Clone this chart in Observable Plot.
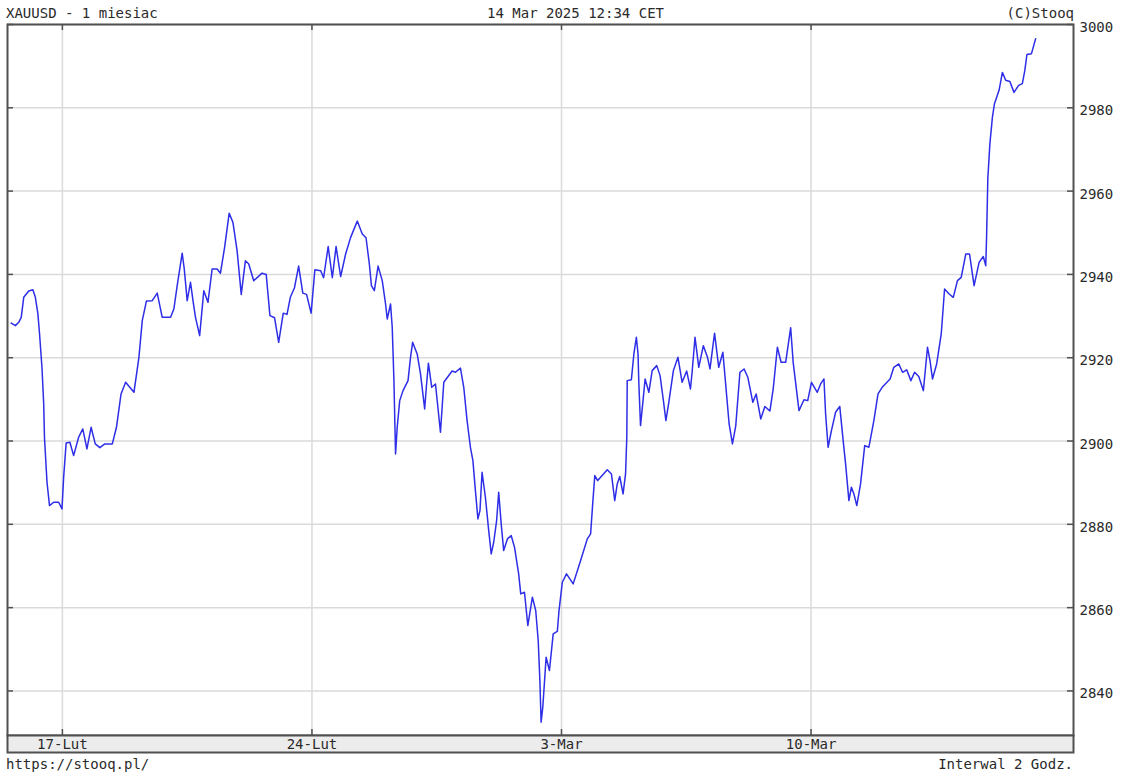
<!DOCTYPE html>
<html><head><meta charset="utf-8">
<script src="https://cdn.jsdelivr.net/npm/d3@7"></script>
<script src="https://cdn.jsdelivr.net/npm/@observablehq/plot@0.6"></script>
<style>
body{margin:0;background:#fff;}
#wrap{position:relative;width:1123px;height:782px;font-family:"DejaVu Sans Mono",monospace;font-size:14px;color:#2a2a2a;}
#wrap svg{position:absolute;left:0;top:0;}
.t{position:absolute;white-space:pre;line-height:14px;}
</style></head><body>
<div id="wrap">
<div class="t" style="left:6px;top:6px">XAUUSD - 1 miesiac</div>
<div class="t" style="left:487px;top:6px">14 Mar 2025 12:34 CET</div>
<div class="t" style="right:49px;top:6px">(C)Stooq</div>
<div class="t" style="left:6px;top:757px">https://stooq.pl/</div>
<div class="t" style="right:50px;top:757px">Interwal 2 Godz.</div>
</div>
<script>
// bar index (2-hour bars, trading time) and price
const bar = [
0.2,1.2,2.0,2.6,3.2,4.4,5.4,6.0,6.6,7.0,
7.6,8.0,8.2,8.8,9.4,10.4,11.6,12.4,12.8,13.4,
14.3,15.2,16.4,17.4,18.4,19.4,20.4,21.5,22.7,24.5,
25.5,26.6,27.7,28.7,29.7,30.9,31.7,32.7,34.1,35.3,
36.5,38.5,39.3,40.1,41.3,41.8,42.5,43.3,43.9,44.5,
45.5,46.5,47.5,48.5,49.7,50.5,51.5,52.6,53.5,54.5,
55.5,56.5,57.3,58.5,60.5,61.5,62.4,63.5,64.5,65.6,
66.5,67.3,68.3,69.3,70.3,71.2,72.3,73.2,74.6,75.3,
76.4,77.4,78.3,79.4,80.6,81.8,83.4,84.6,85.5,86.3,
86.8,87.5,88.4,89.4,90.2,90.6,91.4,91.8,92.2,92.6,
93.0,93.6,94.4,95.6,96.2,96.7,97.8,98.6,99.6,100.0,
100.5,101.3,102.2,103.4,104.2,106.2,107.0,108.2,109.0,109.8,
110.6,111.2,111.8,112.4,112.9,113.4,114.2,115.0,115.6,116.2,
116.9,117.4,118.0,118.6,119.5,120.4,121.2,122.2,122.7,123.6,
124.4,125.5,126.3,126.9,127.3,127.6,128.0,128.8,129.6,130.5,
131.5,131.9,132.7,133.7,135.3,137.1,138.7,139.5,140.0,140.5,
141.2,143.5,144.5,145.3,145.9,146.5,147.3,147.9,148.2,148.3,
149.3,149.9,150.5,150.9,151.1,151.5,152.1,152.6,153.5,154.3,
155.4,156.2,157.0,157.6,158.3,159.4,160.5,161.5,162.6,163.5,
163.9,164.6,165.5,166.6,167.6,168.2,169.3,170.3,171.3,172.0,
172.8,173.6,174.4,175.4,176.4,177.3,178.5,179.3,180.4,181.4,
182.6,183.4,184.4,185.3,186.4,187.6,188.2,189.6,190.8,191.7,
192.6,194.0,194.8,195.6,196.0,196.6,197.4,198.4,199.4,200.3,
200.8,201.6,202.2,202.8,203.5,204.4,205.4,206.4,207.6,208.6,
209.6,211.5,212.4,213.6,214.5,215.5,216.5,217.4,218.4,219.5,
220.5,221.1,221.7,222.7,223.8,224.6,225.7,226.7,227.7,228.6,
229.7,230.6,231.7,232.9,233.9,234.5,234.7,235.0,235.5,236.1,
236.6,237.7,238.5,239.3,240.3,241.3,242.4,243.3,243.9,244.4,
245.5,246.5];
const close = [
2928.3,2927.7,2928.5,2929.7,2934.5,2936.0,2936.3,2934.5,2930.6,2925.8,
2917.4,2909.0,2900.6,2890.1,2884.5,2885.3,2885.3,2883.7,2891.3,2899.5,
2899.7,2896.5,2900.9,2902.9,2898.1,2903.3,2899.3,2898.4,2899.3,2899.3,
2903.3,2911.3,2914.1,2912.9,2911.7,2920.1,2928.9,2933.6,2933.7,2935.5,
2929.7,2929.7,2931.7,2937.3,2945.1,2941.3,2933.7,2938.1,2933.7,2929.7,
2925.3,2936.1,2933.3,2941.3,2941.3,2940.3,2946.5,2954.7,2952.5,2945.7,
2935.2,2943.3,2942.5,2938.5,2940.3,2940.0,2930.1,2929.6,2923.7,2930.7,
2930.4,2934.5,2936.8,2942.0,2935.5,2935.2,2930.7,2941.1,2940.9,2939.2,
2946.7,2939.2,2946.7,2939.5,2944.9,2948.9,2952.8,2949.7,2948.8,2942.5,
2937.3,2936.1,2942.0,2938.5,2932.9,2929.3,2932.9,2927.3,2914.9,2896.9,
2903.3,2909.7,2912.1,2914.5,2920.1,2923.7,2920.9,2916.1,2907.7,2912.9,
2918.7,2912.9,2913.7,2902.1,2914.1,2916.8,2916.5,2917.5,2912.9,2904.9,
2898.5,2895.3,2888.1,2881.3,2883.3,2892.5,2886.5,2878.5,2872.9,2875.7,
2880.9,2887.7,2880.1,2873.7,2876.5,2877.3,2874.5,2868.1,2863.3,2863.7,
2855.7,2862.5,2859.3,2852.1,2842.5,2832.5,2836.1,2848.1,2844.9,2853.7,
2854.3,2859.3,2866.1,2868.1,2865.7,2871.3,2876.5,2877.7,2884.9,2891.7,
2890.5,2893.1,2892.1,2885.7,2889.7,2891.5,2887.3,2892.1,2900.9,2914.5,
2914.7,2920.9,2924.9,2920.9,2913.7,2903.7,2909.7,2914.9,2911.7,2916.9,
2918.1,2915.7,2909.7,2904.9,2909.3,2916.9,2920.1,2914.1,2916.8,2912.5,
2916.5,2924.9,2917.7,2922.9,2920.1,2917.3,2925.9,2917.7,2921.3,2913.3,
2904.1,2899.3,2903.7,2916.5,2917.3,2915.3,2909.3,2911.3,2905.3,2908.3,
2907.2,2912.5,2922.5,2918.9,2918.9,2927.2,2918.9,2907.3,2909.9,2909.7,
2914.1,2911.7,2913.7,2914.9,2906.5,2898.5,2902.5,2906.9,2908.3,2899.3,
2894.5,2885.7,2888.9,2887.3,2884.5,2889.7,2898.9,2898.5,2904.9,2911.3,
2912.9,2914.9,2917.7,2918.5,2916.5,2917.1,2914.5,2916.5,2915.5,2912.1,
2922.5,2919.3,2914.9,2918.5,2925.7,2936.5,2935.3,2934.5,2938.5,2939.3,
2944.9,2944.9,2937.3,2942.9,2944.3,2942.1,2948.9,2963.0,2971.4,2977.7,
2981.0,2984.2,2988.5,2986.6,2986.3,2983.7,2985.4,2985.8,2989.0,2992.8,
2993.0,2996.6];

const xTickPos = [12.5, 72.5, 132.5, 192.5];
const xTickLabels = ["17-Lut", "24-Lut", "3-Mar", "10-Mar"];
const yTicks = [2840, 2860, 2880, 2900, 2920, 2940, 2960, 2980, 3000];

const data = bar.map((b, i) => ({bar: b, close: close[i]}));
const labelFor = new Map(xTickPos.map((p, i) => [p, xTickLabels[i]]));

const W = 1123, H = 782, mT = 24, mB = 47, mL = 7, mR = 50;
const plotH = H - mT - mB, plotW = W - mL - mR;
const frameColor = "#505050";

const chart = Plot.plot({
  width: W, height: H,
  marginTop: mT, marginBottom: mB, marginLeft: mL, marginRight: mR,
  x: {type: "linear", domain: [-0.7, 255.6]},
  y: {domain: [2829.3, 3000]},
  style: {fontFamily: "DejaVu Sans Mono", fontSize: "14px", color: "#2a2a2a", background: "transparent", overflow: "visible"},
  marks: [
    Plot.gridY(yTicks, {stroke: "#dadada", strokeOpacity: 1, strokeWidth: 1.5}),
    Plot.gridX(xTickPos, {stroke: "#dadada", strokeOpacity: 1, strokeWidth: 1.5}),
    Plot.line(data, {x: "bar", y: "close", stroke: "#2e2ee8", strokeWidth: 1.5}),
    Plot.tickX(xTickPos, {x: d => d, insetBottom: plotH - 6, stroke: frameColor, strokeWidth: 1.5}),
    Plot.tickX(xTickPos, {x: d => d, insetTop: plotH - 6, stroke: frameColor, strokeWidth: 1.5}),
    Plot.tickY(yTicks, {y: d => d, insetRight: plotW - 6, stroke: frameColor, strokeWidth: 1.5}),
    Plot.tickY(yTicks, {y: d => d, insetLeft: plotW - 6, stroke: frameColor, strokeWidth: 1.5}),
    Plot.frame({stroke: frameColor, strokeWidth: 2}),
    Plot.frame({fill: "#ececec", stroke: frameColor, strokeWidth: 2, insetTop: plotH, insetBottom: -17}),
    Plot.axisX(xTickPos, {tickSize: 0, tickPadding: 4, tickFormat: d => labelFor.get(d), label: null, fill: "#2a2a2a"}),
    Plot.axisY(yTicks, {anchor: "right", tickSize: 0, tickPadding: 6, dy: 3, tickFormat: d => String(d), label: null, fill: "#2a2a2a"})
  ]
});
document.getElementById("wrap").prepend(chart);
</script>
</body></html>
